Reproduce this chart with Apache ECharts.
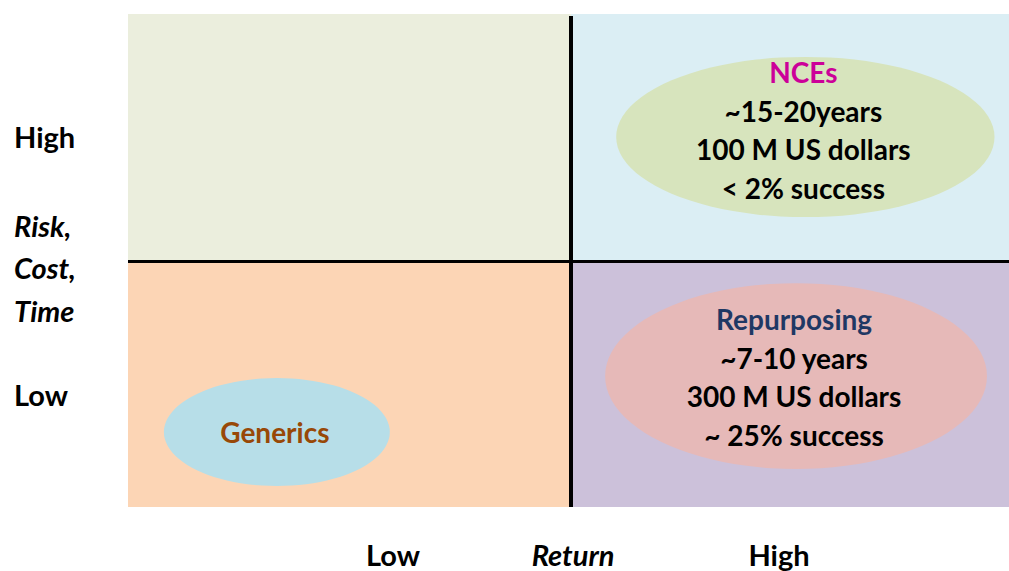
<!DOCTYPE html>
<html>
<head>
<meta charset="utf-8">
<script src="https://cdn.jsdelivr.net/npm/echarts@6/dist/echarts.min.js"></script>
<style>
html,body{margin:0;padding:0;background:#fff;}
#chart{width:1009px;height:571px;}
</style>
</head>
<body>
<div id="chart"></div>
<script>
// ---- data ----
// quadrants in data units: [x0, y0, x1, y1]
var quadrantNames = ['Low return / high risk', 'High return / high risk', 'Low return / low risk', 'High return / low risk'];
var quadrantX0 = [0, 1, 0, 1];
var quadrantY0 = [1, 1, 0, 0];
var quadrantX1 = [1, 2, 1, 2];
var quadrantY1 = [2, 2, 1, 1];

// bubbles (ellipses) : centre and radii in data units
var bubbleTitles = ['NCEs', 'Repurposing', 'Generics'];
var bubbleDetails = [
  ['~15-20years', '100 M US dollars', '< 2% success'],
  ['~7-10 years', '300 M US dollars', '~ 25% success'],
  []
];
var bubbleCX = [1.529, 1.508, 0.336];
var bubbleCY = [1.501, 0.531, 0.304];
var bubbleRX = [0.427, 0.431, 0.255];
var bubbleRY = [0.325, 0.377, 0.219];

// axis tick labels and names
var yTickLabels = ['High', 'Low'];
var yAxisName = ['Risk,', 'Cost,', 'Time'];
var xTickLabels = ['Low', 'High'];
var xAxisName = 'Return';

// ---- styles (kept apart from data) ----
var quadrantColors = ['#EBEEDD', '#DBEEF4', '#FCD5B5', '#CCC1DA'];
var bubbleFill = ['#D7E4BD', '#E6B9B8', '#B7DEE8'];
var bubbleTitleColor = ['#CC0099', '#1F3864', '#984807'];
var FONT = 'Lato, "Open Sans", sans-serif';

var chart = echarts.init(document.getElementById('chart'), null, {renderer: 'svg'});

var quadData = quadrantNames.map(function (n, i) {
  return {name: n, value: [quadrantX0[i], quadrantY0[i], quadrantX1[i], quadrantY1[i]]};
});
var bubbleData = bubbleTitles.map(function (t, i) {
  return {name: t, value: [bubbleCX[i], bubbleCY[i], bubbleRX[i], bubbleRY[i]]};
});

var option = {
  backgroundColor: '#ffffff',
  animation: false,
  grid: {left: 128, width: 886, top: 14, height: 493, outerBoundsMode: 'none', containLabel: false},
  xAxis: {type: 'value', min: 0, max: 2, show: false},
  yAxis: {type: 'value', min: 0, max: 2, show: false},
  series: [
    {
      type: 'custom',
      name: 'quadrants',
      silent: true,
      data: quadData,
      renderItem: function (params, api) {
        var p0 = api.coord([api.value(0), api.value(3)]);
        var p1 = api.coord([api.value(2), api.value(1)]);
        return {
          type: 'rect',
          shape: {x: p0[0], y: p0[1], width: p1[0] - p0[0], height: p1[1] - p0[1]},
          style: {fill: quadrantColors[params.dataIndex]}
        };
      },
      z: 1
    },
    {
      type: 'custom',
      name: 'dividers',
      silent: true,
      data: [[1]],
      renderItem: function (params, api) {
        var vTop = api.coord([1, 1.992]);
        var vBot = api.coord([1, 0]);
        var hL = api.coord([0, 1]);
        var hR = api.coord([2, 1]);
        return {
          type: 'group',
          children: [
            {type: 'line', shape: {x1: vTop[0], y1: vTop[1], x2: vBot[0], y2: vBot[1]}, style: {stroke: '#000', lineWidth: 4}},
            {type: 'line', shape: {x1: hL[0], y1: hL[1] + 1, x2: hR[0], y2: hR[1] + 1}, style: {stroke: '#000', lineWidth: 3}}
          ]
        };
      },
      z: 2
    },
    {
      type: 'custom',
      name: 'bubbles',
      silent: true,
      data: bubbleData,
      renderItem: function (params, api) {
        var i = params.dataIndex;
        var c = api.coord([api.value(0), api.value(1)]);
        var s = api.size([api.value(2), api.value(3)]);
        var lines = [bubbleTitles[i]].concat(bubbleDetails[i]);
        var lh = 38.5;
        var shift = lines.length > 1 ? (i === 0 ? -7 : 1) : 0;
        var startY = c[1] - (lines.length - 1) * lh / 2 + shift;
        var children = [{
          type: 'circle',
          x: c[0], y: c[1], scaleX: s[0], scaleY: s[1],
          shape: {cx: 0, cy: 0, r: 1},
          style: {fill: bubbleFill[i]}
        }];
        lines.forEach(function (t, k) {
          children.push({
            type: 'text',
            x: c[0] - 2, y: startY + k * lh,
            style: {
              text: t,
              fill: k === 0 ? bubbleTitleColor[i] : '#000000',
              font: 'bold 28px ' + FONT,
              align: 'center', verticalAlign: 'middle',
              textAlign: 'center', textVerticalAlign: 'middle'
            }
          });
        });
        return {type: 'group', children: children};
      },
      z: 3
    }
  ],
  graphic: [
    {type: 'text', left: 14, top: 122, style: {text: yTickLabels[0], font: 'bold 29px ' + FONT, fill: '#000'}},
    {type: 'text', left: 14, top: 204, style: {text: yAxisName.join('\n'), font: 'italic bold 29px ' + FONT, fill: '#000', lineHeight: 42.5}},
    {type: 'text', left: 14, top: 380, style: {text: yTickLabels[1], font: 'bold 29px ' + FONT, fill: '#000'}},
    {type: 'text', x: 393, y: 554, style: {text: xTickLabels[0], font: 'bold 29px ' + FONT, fill: '#000', align: 'center', verticalAlign: 'middle', textAlign: 'center', textVerticalAlign: 'middle'}},
    {type: 'text', x: 573, y: 554, style: {text: xAxisName, font: 'italic bold 29px ' + FONT, fill: '#000', align: 'center', verticalAlign: 'middle', textAlign: 'center', textVerticalAlign: 'middle'}},
    {type: 'text', x: 779, y: 554, style: {text: xTickLabels[1], font: 'bold 29px ' + FONT, fill: '#000', align: 'center', verticalAlign: 'middle', textAlign: 'center', textVerticalAlign: 'middle'}}
  ]
};
chart.setOption(option);
</script>
</body>
</html>
